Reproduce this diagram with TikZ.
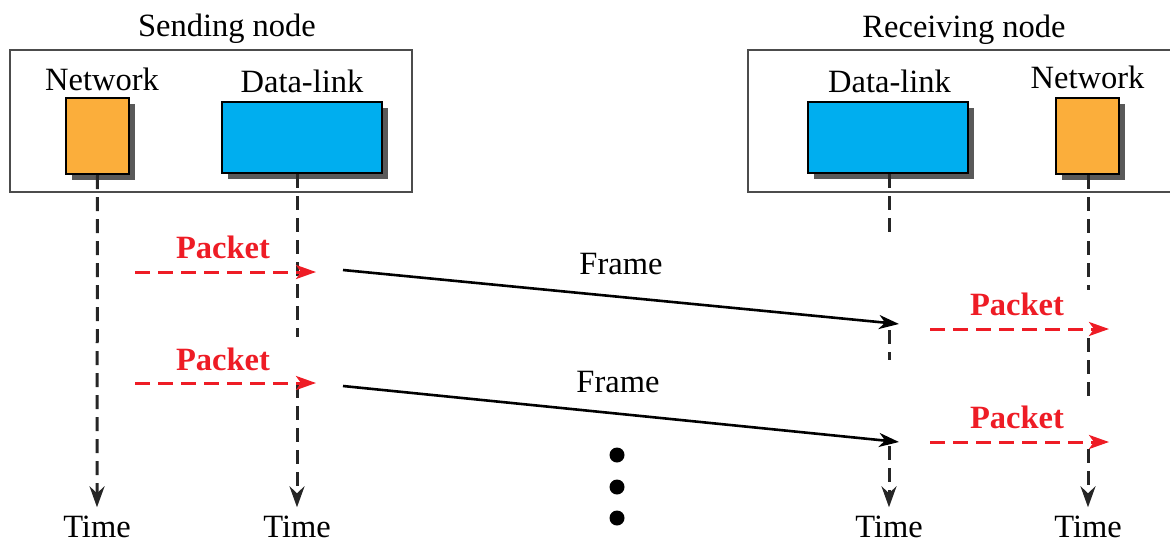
\documentclass[tikz,border=0pt]{standalone}
\usepackage{fontspec}
\setmainfont{Liberation Serif}
\usetikzlibrary{arrows.meta,shadows}
\definecolor{netorange}{HTML}{FBAE3B}
\definecolor{dlblue}{HTML}{00AEEF}
\definecolor{pktred}{HTML}{EE1C25}
\begin{document}
\begin{tikzpicture}[x=1pt,y=-1pt,font=\fontsize{32.5}{38}\selectfont,
  outerbox/.style={draw=black!70,line width=2.2pt,inner sep=0},
  layerbox/.style={draw=black,line width=2.2pt,inner sep=0,
    drop shadow={shadow xshift=6pt,shadow yshift=-6pt,fill=black!65,opacity=1}},
  netbox/.style={layerbox,fill=netorange,minimum width=63pt,minimum height=76pt},
  dlbox/.style={layerbox,fill=dlblue,minimum width=160pt,minimum height=71pt},
  lbl/.style={anchor=base,inner sep=0},
  timelbl/.style={anchor=base,inner xsep=0,inner ysep=8pt},
  timeline/.style={draw=black!85,line width=3pt,dash pattern=on 14pt off 8pt},
  timearrow/.style={timeline,-{Stealth[length=21pt,width=15pt,inset=7pt]}},
  pktarrow/.style={draw=pktred,line width=3pt,dash pattern=on 15pt off 8pt,
    -{Stealth[length=20pt,width=14pt,inset=5pt]}},
  framearrow/.style={draw=black,line width=2.6pt,-{Stealth[length=20pt,width=14pt,inset=6pt]}},
  pktlbl/.style={lbl,text=pktred,font=\fontsize{32.5}{38}\selectfont\bfseries},
  dot/.style={circle,fill=black,inner sep=0,minimum size=15pt}]
\useasboundingbox (0,0) rectangle (1170,542);

% outer boxes
\node[outerbox,minimum width=402pt,minimum height=142pt] (sbox) at (211,121) {};
\node[outerbox,minimum width=432pt,minimum height=142pt] (rbox) at (964,121) {};
\node[lbl] (stitle) at (227,36) {Sending node};
\node[lbl] (rtitle) at (964,37) {Receiving node};

% layer labels
\node[lbl] (lnetL) at (102,90) {Network};
\node[lbl] (ldlL) at (302,92) {Data-link};
\node[lbl] (ldlR) at (889.5,92) {Data-link};
\node[lbl] (lnetR) at (1087.5,88) {Network};

% layer boxes
\node[netbox] (netL) at (97.5,136) {};
\node[dlbox] (dlL) at (302,137.5) {};
\node[dlbox] (dlR) at (888,137.5) {};
\node[netbox] (netR) at (1087.5,136) {};

% time labels
\node[timelbl] (tNL) at (97,537) {Time};
\node[timelbl] (tDL) at (297,537) {Time};
\node[timelbl] (tDR) at (889,537) {Time};
\node[timelbl] (tNR) at (1088,537) {Time};

% gap coordinates
\coordinate (dla) at (297,337);
\coordinate (dlb) at (297,384);
\coordinate (dra) at (889,237);
\coordinate (drb) at (889,330);
\coordinate (drc) at (889,360);
\coordinate (drd) at (889,446);
\coordinate (nra) at (1088,290);
\coordinate (nrb) at (1088,338);
\coordinate (nrc) at (1088,402);
\coordinate (nrd) at (1088,449);

% time lines
\draw[timearrow] (netL.south) -- (tNL.north);
\draw[timeline] (dlL.south -| tDL) -- (dla);
\draw[timearrow] (dlb) -- (tDL.north);
\draw[timeline] (dlR.south -| tDR) -- (dra);
\draw[timeline] (drb) -- (drc);
\draw[timearrow] (drd) -- (tDR.north);
\draw[timeline] (netR.south -| tNR) -- (nra);
\draw[timeline] (nrb) -- (nrc);
\draw[timearrow] (nrd) -- (tNR.north);

% packets (sending side)
\coordinate (p1s) at (135,272); \coordinate (p1e) at (316,272);
\coordinate (p2s) at (135,383); \coordinate (p2e) at (316,383);
\draw[pktarrow] (p1s) -- (p1e);
\draw[pktarrow] (p2s) -- (p2e);
\node[pktlbl] (pk1) at (223,258) {Packet};
\node[pktlbl] (pk2) at (223,370) {Packet};

% packets (receiving side)
\coordinate (p3s) at (930,329); \coordinate (p3e) at (1109,329);
\coordinate (p4s) at (930,442); \coordinate (p4e) at (1109,442);
\draw[pktarrow] (p3s) -- (p3e);
\draw[pktarrow] (p4s) -- (p4e);
\node[pktlbl] (pk3) at (1017,315) {Packet};
\node[pktlbl] (pk4) at (1017,428) {Packet};

% frames
\coordinate (f1s) at (343,270); \coordinate (f1e) at (899,324);
\coordinate (f2s) at (343,386); \coordinate (f2e) at (899,442);
\draw[framearrow] (f1s) -- (f1e);
\draw[framearrow] (f2s) -- (f2e);
\node[lbl] (fr1) at (621,274) {Frame};
\node[lbl] (fr2) at (618,392) {Frame};

% dots
\node[dot] (d1) at (617,455) {};
\node[dot] (d2) at (617,487) {};
\node[dot] (d3) at (617,518) {};
\end{tikzpicture}
\end{document}
